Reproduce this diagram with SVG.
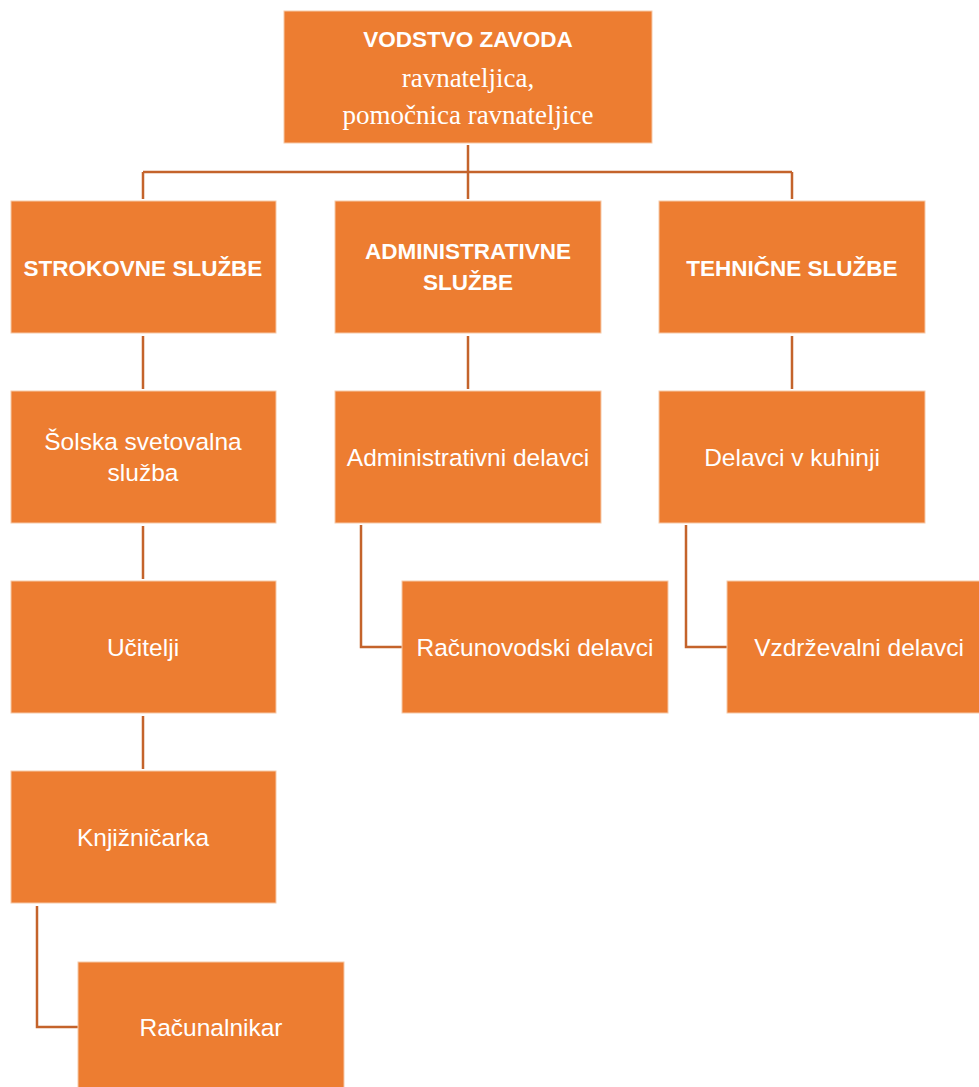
<svg xmlns="http://www.w3.org/2000/svg" width="979" height="1087" viewBox="0 0 979 1087">
<style>
.box{fill:#ED7D31;stroke:#F6C9A8;stroke-width:1}
.t{fill:#fff;font-family:"Liberation Sans",Arial,sans-serif;font-size:24.5px;text-anchor:middle}
.b{font-weight:bold;font-size:22.5px}
.s{font-family:"Liberation Serif","DejaVu Serif",serif;font-size:27px}
.c{fill:none;stroke:#C4632B;stroke-width:2.5}
</style>
<rect width="979" height="1087" fill="#fff"/>
<g id="connectors">
<path class="c" d="M468 145V199M143 172H792M143 172V199M792 172V199"/>
<path class="c" d="M143 336V389M468 336V389M792 336V389"/>
<path class="c" d="M143 526V579M143 716V769"/>
<path class="c" d="M361 525V647H402M686 525V647H727M37 906V1027H78"/>
</g>
<g id="vodstvo"><rect class="box" x="284" y="11" width="368" height="132"/>
<text class="t b" x="468" y="47">VODSTVO ZAVODA</text>
<text class="t s" x="468" y="87">ravnateljica,</text>
<text class="t s" x="468" y="124">pomočnica ravnateljice</text></g>
<g id="strokovne"><rect class="box" x="11" y="201" width="265" height="132"/><text class="t b" x="143" y="276">STROKOVNE SLUŽBE</text></g>
<g id="administrativne"><rect class="box" x="335" y="201" width="266" height="132"/><text class="t b" x="468" y="259">ADMINISTRATIVNE</text><text class="t b" x="468" y="290">SLUŽBE</text></g>
<g id="tehnicne"><rect class="box" x="659" y="201" width="266" height="132"/><text class="t b" x="792" y="276">TEHNIČNE SLUŽBE</text></g>
<g id="svetovalna"><rect class="box" x="11" y="391" width="265" height="132"/><text class="t" x="143" y="450">Šolska svetovalna</text><text class="t" x="143" y="481">služba</text></g>
<g id="admdelavci"><rect class="box" x="335" y="391" width="266" height="132"/><text class="t" x="468" y="466">Administrativni delavci</text></g>
<g id="kuhinja"><rect class="box" x="659" y="391" width="266" height="132"/><text class="t" x="792" y="466">Delavci v kuhinji</text></g>
<g id="ucitelji"><rect class="box" x="11" y="581" width="265" height="132"/><text class="t" x="143" y="656">Učitelji</text></g>
<g id="racunovodski"><rect class="box" x="402" y="581" width="266" height="132"/><text class="t" x="535" y="656">Računovodski delavci</text></g>
<g id="vzdrzevalni"><rect class="box" x="727" y="581" width="266" height="132"/><text class="t" x="859" y="656">Vzdrževalni delavci</text></g>
<g id="knjiznicarka"><rect class="box" x="11" y="771" width="265" height="132"/><text class="t" x="143" y="846">Knjižničarka</text></g>
<g id="racunalnikar"><rect class="box" x="78" y="962" width="266" height="132"/><text class="t" x="211" y="1036">Računalnikar</text></g>
</svg>
